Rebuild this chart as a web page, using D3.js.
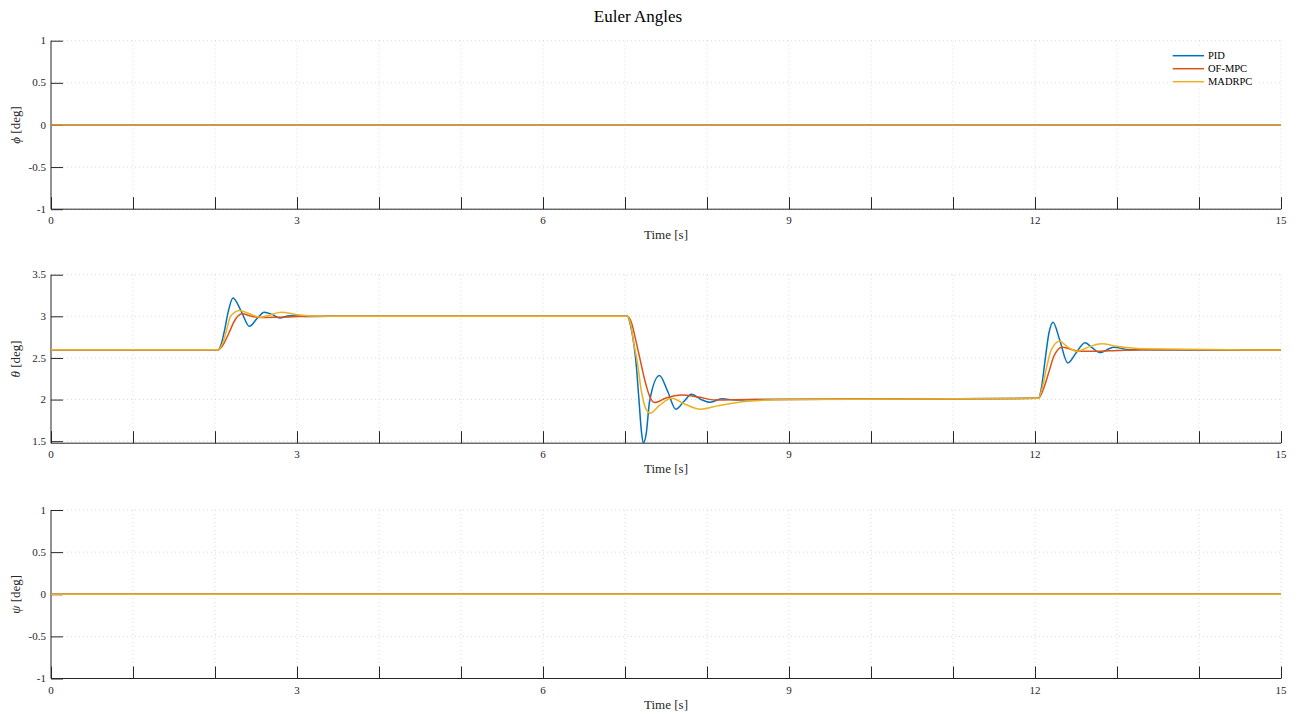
<!DOCTYPE html>
<html>
<head>
<meta charset="utf-8">
<script src="https://cdn.jsdelivr.net/npm/d3@7/dist/d3.min.js"></script>
<style>
  body { margin: 0; background: #fff; }
  svg { display: block; font-family: "Liberation Serif", "Times New Roman", serif; }
</style>
</head>
<body>
<svg id="chart"></svg>
<script>
// ---- data ----
const seriesNames = ["PID", "OF-MPC", "MADRPC"]

const secondTicks = [0, 1, 2, 3, 4, 5, 6, 7, 8, 9, 10, 11, 12, 13, 14, 15]
const timeLabels = [0, 3, 6, 9, 12, 15]
const angleTicks = [-1, -0.5, 0, 0.5, 1]
const thetaTicks = [1.5, 2, 2.5, 3, 3.5]

// roll: all controllers stay at zero
const phiPID = [[0, 0], [15, 0]]
const phiOFMPC = [[0, 0], [15, 0]]
const phiMADRPC = [[0, 0], [15, 0]]

// pitch [time, deg]
const thetaPID = [
    [0, 2.6], [2.04, 2.6], [2.08, 2.68], [2.12, 2.85], [2.16, 3.05], [2.22, 3.22], [2.32, 3.06],
    [2.42, 2.88], [2.51, 2.97], [2.60, 3.05], [2.70, 3.02], [2.79, 2.98], [2.91, 3.008],
    [3.1, 2.998], [3.4, 3.0], [7.03, 3.0], [7.07, 2.88], [7.11, 2.65], [7.134, 2.45],
    [7.17, 2.0], [7.20, 1.62], [7.224, 1.476], [7.26, 1.6], [7.30, 1.98], [7.42, 2.288],
    [7.52, 2.1], [7.62, 1.884], [7.72, 1.98], [7.81, 2.064], [7.93, 2.0], [8.04, 1.968],
    [8.18, 2.01], [8.35, 1.995], [8.6, 2.0], [12.04, 2.015], [12.08, 2.15], [12.12, 2.45],
    [12.17, 2.8], [12.22, 2.93], [12.30, 2.72], [12.40, 2.44], [12.50, 2.56], [12.61, 2.684],
    [12.70, 2.62], [12.79, 2.564], [12.96, 2.63], [13.15, 2.6], [15, 2.595]
]
const thetaOFMPC = [
    [0, 2.6], [2.04, 2.6], [2.10, 2.66], [2.17, 2.8], [2.24, 2.95], [2.33, 3.03], [2.45, 3.0],
    [2.55, 2.985], [2.8, 2.99], [3.2, 3.0], [7.03, 3.0], [7.08, 2.92], [7.13, 2.72],
    [7.18, 2.5], [7.25, 2.2], [7.30, 2.04], [7.36, 1.964], [7.5, 2.02], [7.69, 2.056],
    [7.9, 2.03], [8.1, 1.995], [8.5, 2.0], [12.04, 2.015], [12.10, 2.12], [12.16, 2.3],
    [12.23, 2.52], [12.33, 2.63], [12.45, 2.6], [12.55, 2.58], [12.75, 2.58], [13.0, 2.59],
    [13.3, 2.6], [15, 2.595]
]
const thetaMADRPC = [
    [0, 2.6], [2.04, 2.6], [2.09, 2.67], [2.14, 2.83], [2.19, 3.0], [2.30, 3.07], [2.42, 3.03],
    [2.55, 2.99], [2.68, 3.02], [2.81, 3.05], [3.0, 3.02], [3.3, 3.0], [7.03, 3.0],
    [7.07, 2.9], [7.11, 2.66], [7.15, 2.45], [7.20, 2.1], [7.25, 1.9], [7.31, 1.836],
    [7.42, 1.93], [7.57, 2.016], [7.72, 1.95], [7.92, 1.884], [8.15, 1.93], [8.5, 1.98],
    [9.0, 2.0], [12.04, 2.015], [12.09, 2.15], [12.14, 2.38], [12.20, 2.6], [12.30, 2.70],
    [12.40, 2.63], [12.51, 2.58], [12.65, 2.63], [12.81, 2.67], [13.0, 2.64], [13.3, 2.61],
    [15, 2.595]
]

// yaw: all zero
const psiPID = [[0, 0], [15, 0]]
const psiOFMPC = [[0, 0], [15, 0]]
const psiMADRPC = [[0, 0], [15, 0]]

// ---- layout ----
const width = 1299
const height = 717
const plotLeft = 51
const plotWidth = 1230
const plotHeight = 168.5
const colors = ["#0072BD", "#D95319", "#EDB120"]
const axisColor = "#262626"
const gridColor = "#d9d9d9"

const panels = [
    { symbol: "\u03D5", top: 40.7, domain: [-1, 1], ticks: angleTicks, series: [phiPID, phiOFMPC, phiMADRPC], opacity: 0.7 },
    { symbol: "\u03B8", top: 274.7, domain: [1.476, 3.5], ticks: thetaTicks, series: [thetaPID, thetaOFMPC, thetaMADRPC], opacity: 1 },
    { symbol: "\u03C8", top: 510, domain: [-1, 1], ticks: angleTicks, series: [psiPID, psiOFMPC, psiMADRPC], opacity: 1 }
]

const svg = d3.select("#chart")
    .attr("width", width)
    .attr("height", height)

const x = d3.scaleLinear().domain([0, 15]).range([plotLeft, plotLeft + plotWidth])

svg.append("text")
    .attr("x", 638)
    .attr("y", 22)
    .attr("text-anchor", "middle")
    .style("font-size", "17px")
    .attr("fill", "#000")
    .text("Euler Angles")

panels.forEach(function (p) {
    const y = d3.scaleLinear().domain(p.domain).range([p.top + plotHeight, p.top])
    const bottom = p.top + plotHeight
    const g = svg.append("g")

    // grid
    g.append("g").selectAll("line")
        .data(secondTicks.slice(1))
        .enter().append("line")
        .attr("x1", d => x(d)).attr("x2", d => x(d))
        .attr("y1", p.top).attr("y2", bottom)
        .attr("stroke", gridColor).attr("stroke-width", 1)
        .attr("stroke-dasharray", "1,3")
    g.append("g").selectAll("line")
        .data(p.ticks)
        .enter().append("line")
        .attr("x1", plotLeft).attr("x2", plotLeft + plotWidth)
        .attr("y1", d => y(d)).attr("y2", d => y(d))
        .attr("stroke", gridColor).attr("stroke-width", 1)
        .attr("stroke-dasharray", "1,3")

    // axes (ticks pointing inward)
    const yAxis = g.append("g")
        .attr("transform", "translate(" + plotLeft + ",0)")
        .call(d3.axisRight(y).tickValues(p.ticks).tickSize(12).tickFormat(""))
    yAxis.select(".domain").attr("d", "M0," + y.range()[1] + "V" + y.range()[0])
    yAxis.selectAll("line, path").attr("stroke", axisColor)

    g.append("g").selectAll("text")
        .data(p.ticks)
        .enter().append("text")
        .attr("x", plotLeft - 5)
        .attr("y", d => y(d))
        .attr("dy", "0.33em")
        .attr("text-anchor", "end")
        .style("font-size", "11px")
        .attr("fill", axisColor)
        .text(d => String(d))

    const xAxis = g.append("g")
        .attr("transform", "translate(0," + bottom + ")")
        .call(d3.axisTop(x).tickValues(secondTicks).tickSize(12).tickFormat(""))
    xAxis.select(".domain").attr("d", "M" + plotLeft + ",0H" + (plotLeft + plotWidth))
    xAxis.selectAll("line, path").attr("stroke", axisColor)

    g.append("g").selectAll("text")
        .data(timeLabels)
        .enter().append("text")
        .attr("x", d => x(d))
        .attr("y", bottom + 15)
        .attr("text-anchor", "middle")
        .style("font-size", "11px")
        .attr("fill", axisColor)
        .text(d => d)

    g.append("text")
        .attr("x", plotLeft + plotWidth / 2)
        .attr("y", bottom + 30)
        .attr("text-anchor", "middle")
        .style("font-size", "13px")
        .attr("fill", axisColor)
        .text("Time [s]")

    const yTitle = g.append("text")
        .attr("transform", "translate(20," + (p.top + plotHeight / 2) + ") rotate(-90)")
        .attr("text-anchor", "middle")
        .style("font-size", "13px")
        .attr("fill", axisColor)
    yTitle.append("tspan").style("font-style", "italic").text(p.symbol)
    yTitle.append("tspan").text(" [deg]")

    // series
    const line = d3.line()
        .x(d => x(d[0]))
        .y(d => y(d[1]))
        .curve(d3.curveMonotoneX)
    p.series.forEach(function (s, i) {
        g.append("path")
            .datum(s)
            .attr("d", line)
            .attr("fill", "none")
            .attr("stroke", colors[i])
            .attr("stroke-opacity", p.opacity)
            .attr("stroke-width", 1.5)
    })
})

// legend in the first panel
const legend = svg.append("g").attr("transform", "translate(1168,49)")
legend.append("rect")
    .attr("width", 88).attr("height", 38)
    .attr("fill", "#fff")
const item = legend.selectAll(".legend-item")
    .data(seriesNames)
    .enter().append("g")
    .attr("class", "legend-item")
    .attr("transform", (d, i) => "translate(0," + (6.7 + i * 13) + ")")
item.append("line")
    .attr("x1", 4.7).attr("x2", 36)
    .attr("stroke", (d, i) => colors[i])
    .attr("stroke-width", 1.5)
item.append("text")
    .attr("x", 40)
    .attr("dy", "0.35em")
    .style("font-size", "10.5px")
    .attr("fill", "#000")
    .text(d => d)
</script>
</body>
</html>
